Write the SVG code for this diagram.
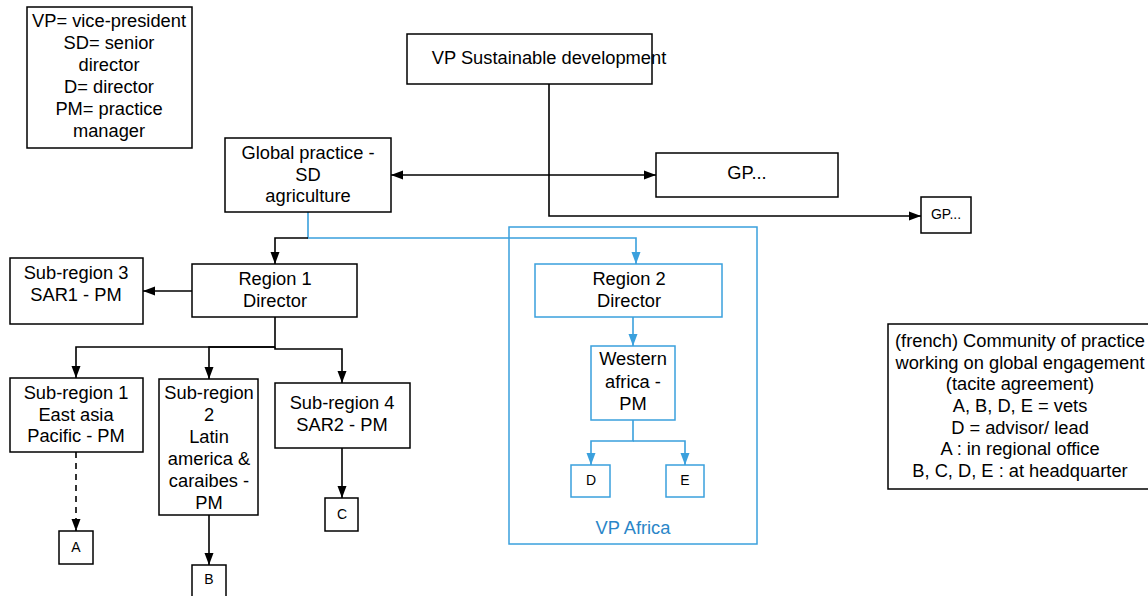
<svg xmlns="http://www.w3.org/2000/svg" width="1148" height="596" viewBox="0 0 1148 596">
<defs>
<style>
.n{fill:#fff;stroke:#000;stroke-width:1.5}
.b{fill:#fff;stroke:#3aa0dd;stroke-width:1.5}
.t{font-family:"Liberation Sans",Arial,sans-serif;font-size:18.3px;fill:#000;text-anchor:middle;dominant-baseline:central}
.s{font-size:14px}
.c{fill:none;stroke:#000;stroke-width:1.6}
.cb{fill:none;stroke:#3aa0dd;stroke-width:1.6}
</style>
<marker id="ah" viewBox="0 0 12 10" refX="12" refY="5" markerWidth="12" markerHeight="10" markerUnits="userSpaceOnUse" orient="auto-start-reverse"><path d="M0,0.5 L12,5 L0,9.5 z" fill="#000"/></marker>
<marker id="ahb" viewBox="0 0 12 10" refX="12" refY="5" markerWidth="12" markerHeight="10" markerUnits="userSpaceOnUse" orient="auto"><path d="M0,0.5 L12,5 L0,9.5 z" fill="#3aa0dd"/></marker>
</defs>
<rect width="1148" height="596" fill="#fff"/>

<g id="vpafrica">
<rect x="509" y="227" width="248" height="317" fill="none" stroke="#3aa0dd" stroke-width="1.5"/>
<text class="t" x="633" y="527" style="fill:#2a86c8">VP Africa</text>
</g>

<g id="connectors">
<path class="c" d="M549,84 V216 H921" marker-end="url(#ah)"/>
<path class="c" d="M391,175 H656" marker-start="url(#ah)" marker-end="url(#ah)"/>
<path class="cb" d="M308,212 V238 H636 V264" marker-end="url(#ahb)"/>
<path class="c" d="M308,238 H275 V264" marker-end="url(#ah)"/>
<path class="c" d="M192,291 H143" marker-end="url(#ah)"/>
<path class="c" d="M275,317 V347 H76 V378" marker-end="url(#ah)"/>
<path class="c" d="M275,347 H209 V379" marker-end="url(#ah)"/>
<path class="c" d="M275,347 V349 H342 V383" marker-end="url(#ah)"/>
<path class="c" d="M76,452 V531" stroke-dasharray="6,5" marker-end="url(#ah)"/>
<path class="c" d="M209,515 V565" marker-end="url(#ah)"/>
<path class="c" d="M342,448 V498" marker-end="url(#ah)"/>
<path class="cb" d="M633,317 V346" marker-end="url(#ahb)"/>
<path class="cb" d="M633,420 V441 H591 V465" marker-end="url(#ahb)"/>
<path class="cb" d="M633,441 H685 V465" marker-end="url(#ahb)"/>
</g>

<g id="legend">
<rect class="n" x="27" y="7" width="165" height="141"/>
<text class="t" x="109" y="20">VP= vice-president</text>
<text class="t" x="109" y="42">SD= senior</text>
<text class="t" x="109" y="64">director</text>
<text class="t" x="109" y="86">D= director</text>
<text class="t" x="109" y="108">PM= practice</text>
<text class="t" x="109" y="130">manager</text>
</g>

<g id="vpsd">
<rect class="n" x="407" y="34" width="245" height="50"/>
<text class="t" x="549" y="57">VP Sustainable development</text>
</g>

<g id="gpagri">
<rect class="n" x="225" y="138" width="166" height="74"/>
<text class="t" x="308" y="152">Global practice -</text>
<text class="t" x="308" y="174">SD</text>
<text class="t" x="308" y="195">agriculture</text>
</g>

<g id="gp1">
<rect class="n" x="656" y="153" width="182" height="44"/>
<text class="t" x="747" y="172">GP...</text>
</g>

<g id="gp2">
<rect class="n" x="921" y="197" width="50" height="36"/>
<text class="t s" x="946" y="214">GP...</text>
</g>

<g id="region1">
<rect class="n" x="192" y="264" width="165" height="53"/>
<text class="t" x="275" y="278">Region 1</text>
<text class="t" x="275" y="300">Director</text>
</g>

<g id="sub3">
<rect class="n" x="10" y="258" width="133" height="66"/>
<text class="t" x="76" y="272">Sub-region 3</text>
<text class="t" x="76" y="294">SAR1 - PM</text>
</g>

<g id="sub1">
<rect class="n" x="10" y="378" width="133" height="74"/>
<text class="t" x="76" y="392">Sub-region 1</text>
<text class="t" x="76" y="414">East asia</text>
<text class="t" x="76" y="435">Pacific - PM</text>
</g>

<g id="sub2">
<rect class="n" x="159" y="379" width="99" height="136"/>
<text class="t" x="209" y="392">Sub-region</text>
<text class="t" x="209" y="414">2</text>
<text class="t" x="209" y="436">Latin</text>
<text class="t" x="209" y="458">america &amp;</text>
<text class="t" x="209" y="480">caraibes -</text>
<text class="t" x="209" y="502">PM</text>
</g>

<g id="sub4">
<rect class="n" x="275" y="383" width="135" height="65"/>
<text class="t" x="342" y="402">Sub-region 4</text>
<text class="t" x="342" y="424">SAR2 - PM</text>
</g>

<g id="nodeA">
<rect class="n" x="59" y="531" width="34" height="33"/>
<text class="t s" x="76" y="547">A</text>
</g>
<g id="nodeB">
<rect class="n" x="192" y="565" width="34" height="34"/>
<text class="t s" x="209" y="579">B</text>
</g>
<g id="nodeC">
<rect class="n" x="325" y="498" width="33" height="33"/>
<text class="t s" x="342" y="514">C</text>
</g>

<g id="region2">
<rect class="b" x="535" y="264" width="187" height="53"/>
<text class="t" x="629" y="278">Region 2</text>
<text class="t" x="629" y="300">Director</text>
</g>

<g id="western">
<rect class="b" x="591" y="346" width="84" height="74"/>
<text class="t" x="633" y="358">Western</text>
<text class="t" x="633" y="381">africa -</text>
<text class="t" x="633" y="403">PM</text>
</g>

<g id="nodeD">
<rect class="b" x="571" y="465" width="39" height="32"/>
<text class="t s" x="591" y="480">D</text>
</g>
<g id="nodeE">
<rect class="b" x="666" y="465" width="38" height="32"/>
<text class="t s" x="685" y="480">E</text>
</g>

<g id="community">
<rect class="n" x="888" y="324" width="264" height="165"/>
<text class="t" x="1020" y="340">(french) Community of practice</text>
<text class="t" x="1020" y="362">working on global engagement</text>
<text class="t" x="1020" y="383">(tacite agreement)</text>
<text class="t" x="1020" y="405">A, B, D, E = vets</text>
<text class="t" x="1020" y="427">D = advisor/ lead</text>
<text class="t" x="1020" y="448">A : in regional office</text>
<text class="t" x="1020" y="470">B, C, D, E : at headquarter</text>
</g>
</svg>
